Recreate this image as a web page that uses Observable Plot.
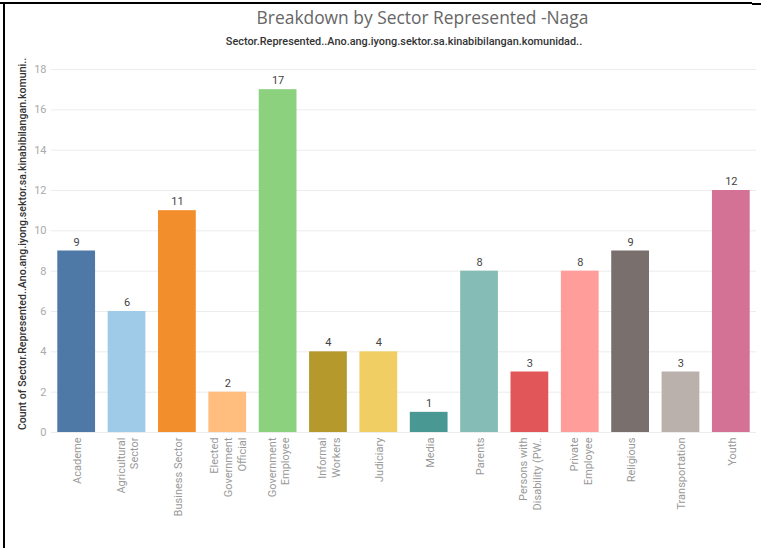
<!DOCTYPE html>
<html>
<head>
<meta charset="utf-8">
<script src="https://cdn.jsdelivr.net/npm/d3@7"></script>
<script src="https://cdn.jsdelivr.net/npm/@observablehq/plot@0.6"></script>
<style>
  html, body { margin: 0; padding: 0; background: #fff; }
  #wrap { position: relative; width: 761px; height: 548px; overflow: hidden; font-family: "Open Sans", sans-serif; }
  #frameTop { position: absolute; left: 0; top: 2px; width: 752px; height: 2px; background: #000; }
  #frameTop2 { position: absolute; left: 752px; top: 3px; width: 9px; height: 2px; background: #000; }
  #frameLeft { position: absolute; left: 3px; top: 2px; width: 2px; height: 546px; background: #000; }
  #title { position: absolute; top: 5px; left: 0; width: 845px; text-align: center; font-size: 17.4px; color: #666; }
  #subtitle { position: absolute; top: 35px; left: 0; width: 808px; text-align: center; font-size: 10.9px; font-weight: 500; color: #333; font-family: Roboto, sans-serif; }
  #chart { position: absolute; top: 50px; left: 0; }
</style>
</head>
<body>
<div id="wrap">
  <div id="frameTop"></div>
  <div id="frameTop2"></div>
  <div id="frameLeft"></div>
  <div id="title">Breakdown by Sector Represented -Naga</div>
  <div id="subtitle">Sector.Represented..Ano.ang.iyong.sektor.sa.kinabibilangan.komunidad..</div>
  <div id="chart"></div>
</div>
<script>
const sectors = [
  "Academe", "Agricultural Sector", "Business Sector", "Elected Government Official",
  "Government Employee", "Informal Workers", "Judiciary", "Media", "Parents",
  "Persons with Disability (PW..", "Private Employee", "Religious", "Transportation", "Youth"
];
const tickLabels = [
  "Academe", "Agricultural\nSector", "Business Sector", "Elected\nGovernment\nOfficial",
  "Government\nEmployee", "Informal\nWorkers", "Judiciary", "Media", "Parents",
  "Persons with\nDisability (PW..", "Private\nEmployee", "Religious", "Transportation", "Youth"
];
const counts = [9, 6, 11, 2, 17, 4, 4, 1, 8, 3, 8, 9, 3, 12];
const colors = [
  "#4e79a7", "#a0cbe8", "#f28e2b", "#ffbe7d", "#8cd17d", "#b6992d", "#f1ce63",
  "#499894", "#86bcb6", "#e15759", "#ff9d9a", "#79706e", "#bab0ac", "#d37295"
];
const yTicks = [0, 2, 4, 6, 8, 10, 12, 14, 16, 18];
const yLabel = "Count of Sector.Represented..Ano.ang.iyong.sektor.sa.kinabibilangan.komuni..";

const data = sectors.map((s, i) => ({sector: s, count: counts[i]}));
const labelMap = new Map(sectors.map((s, i) => [s, tickLabels[i]]));

const chart = Plot.plot({
  width: 761,
  height: 498,
  marginLeft: 51,
  marginRight: 5,
  marginTop: 19,
  marginBottom: 116,
  style: {fontFamily: "Roboto, sans-serif", fontSize: "11px", color: "#999", background: "transparent"},
  x: {domain: sectors, paddingInner: 0.25, paddingOuter: 0.125, round: false, label: null},
  y: {domain: [0, 18], label: null},
  color: {domain: sectors, range: colors},
  marks: [
    Plot.gridY(yTicks, {stroke: "#ececec", strokeOpacity: 1}),
    Plot.axisY(yTicks, {tickSize: 0, tickPadding: 5, fill: "#aaa", fontSize: 11}),
    Plot.axisX({tickSize: 0, tickPadding: 5, tickRotate: -90, fill: "#999", fontSize: 11,
      tickFormat: d => labelMap.get(d), lineHeight: 1.25}),
    Plot.barY(data, {x: "sector", y: "count", fill: "sector"}),
    Plot.text(data, {x: "sector", y: "count", text: d => String(d.count), dy: -9, fill: "#444", fontSize: 11}),
    Plot.text([yLabel], {frameAnchor: "left", rotate: -90, dx: -29, dy: -7, fill: "#333", fontSize: 10.6, fontWeight: 500, textAnchor: "middle"})
  ]
});
document.getElementById("chart").appendChild(chart);
</script>
</body>
</html>
